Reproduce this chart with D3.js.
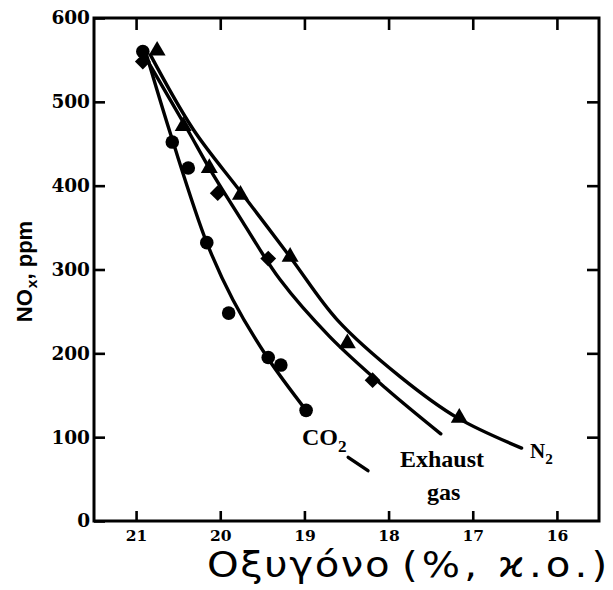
<!DOCTYPE html>
<html>
<head>
<meta charset="utf-8">
<script src="https://cdn.jsdelivr.net/npm/d3@7"></script>
<style>
  html, body { margin: 0; padding: 0; background: #fff; }
  svg { display: block; }
</style>
</head>
<body>
<svg id="chart" width="613" height="590"></svg>
<script>
// Axis ticks
const xTicks = [21, 20, 19, 18, 17, 16];
const yTicks = [0, 100, 200, 300, 400, 500, 600];

// Measured points: [oxygen %, NOx ppm]
const co2Points = [[20.92, 560], [20.57, 452], [20.38, 421], [20.16, 332],
                   [19.90, 248], [19.43, 195], [19.28, 186], [18.98, 132]];
const exhaustPoints = [[20.92, 548], [20.03, 391], [19.43, 313], [18.19, 168]];
const n2Points = [[20.75, 561], [20.44, 471], [20.13, 421], [19.76, 389],
                  [19.17, 315], [18.49, 212], [17.16, 123]];

// Fitted trend curves
const co2Curve = [[20.87, 554], [20.57, 455], [20.16, 332], [19.85, 264],
                  [19.44, 195], [18.98, 132]];
const exhaustCurve = [[20.87, 550], [20.39, 467], [20.12, 419], [19.71, 353],
                      [19.29, 288], [18.70, 220], [18.04, 159], [17.38, 104]];
const n2Curve = [[20.83, 556], [20.32, 467], [19.76, 393], [19.17, 315],
                 [18.61, 240], [17.86, 172], [17.18, 123], [16.42, 87]];

// Short leader stroke under the CO2 label
const co2Leader = [[18.48, 76], [18.245, 60]];

const svg = d3.select("#chart");
const plotL = 94, plotR = 599, plotT = 18, plotB = 521;

const x = d3.scaleLinear().domain([21.5, 15.5]).range([plotL, plotR]);
const y = d3.scaleLinear().domain([0, 600]).range([plotB, plotT]);

const tickFont = "'DejaVu Serif', serif";

// Left axis with labels, ticks pointing inward
const gLeft = svg.append("g").attr("transform", `translate(${plotL},0)`)
  .call(d3.axisLeft(y).tickValues(yTicks).tickSizeInner(-11).tickSizeOuter(0).tickPadding(4));
gLeft.selectAll("text").attr("font-family", tickFont).attr("font-weight", "bold")
  .attr("font-size", 18.5).attr("fill", "#000");

// Bottom axis with labels
const gBottom = svg.append("g").attr("transform", `translate(0,${plotB})`)
  .call(d3.axisBottom(x).tickValues(xTicks).tickFormat(d3.format("d"))
        .tickSizeInner(-10).tickSizeOuter(0).tickPadding(9));
gBottom.selectAll("text").attr("font-family", tickFont).attr("font-weight", "bold")
  .attr("font-size", 15.5).attr("fill", "#000");

// Top and right axes: ticks only
svg.append("g").attr("transform", `translate(0,${plotT})`)
  .call(d3.axisTop(x).tickValues(xTicks).tickFormat("").tickSizeInner(-12).tickSizeOuter(0));
svg.append("g").attr("transform", `translate(${plotR},0)`)
  .call(d3.axisRight(y).tickValues(yTicks.filter(v => v > 0 && v < 600)).tickFormat("")
        .tickSizeInner(-12).tickSizeOuter(0));

svg.selectAll(".domain").remove();
svg.selectAll(".tick line").attr("stroke", "#000").attr("stroke-width", 2.6);

// Plot frame
svg.append("rect")
  .attr("x", plotL).attr("y", plotT)
  .attr("width", plotR - plotL).attr("height", plotB - plotT)
  .attr("fill", "none").attr("stroke", "#000").attr("stroke-width", 3);

// Trend curves
const line = d3.line().x(d => x(d[0])).y(d => y(d[1])).curve(d3.curveCatmullRom.alpha(0.5));
[co2Curve, exhaustCurve, n2Curve].forEach(c => {
  svg.append("path").datum(c).attr("d", line)
    .attr("fill", "none").attr("stroke", "#000").attr("stroke-width", 3.4)
    .attr("stroke-linecap", "round");
});
svg.append("path").datum(co2Leader).attr("d", d3.line().x(d => x(d[0])).y(d => y(d[1])))
  .attr("fill", "none").attr("stroke", "#000").attr("stroke-width", 3.4)
  .attr("stroke-linecap", "round");

// Markers
svg.append("g").selectAll("circle").data(co2Points).join("circle")
  .attr("cx", d => x(d[0])).attr("cy", d => y(d[1])).attr("r", 6.8).attr("fill", "#000");

const squareSym = d3.symbol().type(d3.symbolSquare).size(125);
svg.append("g").selectAll("path").data(exhaustPoints).join("path")
  .attr("d", squareSym)
  .attr("transform", d => `translate(${x(d[0])},${y(d[1])}) rotate(45)`)
  .attr("fill", "#000");

const triSym = d3.symbol().type(d3.symbolTriangle).size(125);
svg.append("g").selectAll("path").data(n2Points).join("path")
  .attr("d", triSym)
  .attr("transform", d => `translate(${x(d[0])},${y(d[1])})`)
  .attr("fill", "#000");

// Series labels
const labelFont = "'Liberation Serif', 'Times New Roman', serif";
function seriesLabel(tx, ty, main, sub, size) {
  const t = svg.append("text").attr("x", tx).attr("y", ty)
    .attr("font-family", labelFont).attr("font-weight", "bold")
    .attr("font-size", size).attr("fill", "#000");
  t.append("tspan").text(main);
  if (sub) t.append("tspan").attr("dy", size * 0.3).attr("font-size", size * 0.72).text(sub);
}
seriesLabel(x(19.03), y(91), "CO", "2", 24);
seriesLabel(x(17.864), y(64), "Exhaust", null, 24);
seriesLabel(x(17.544), y(25), "gas", null, 24);
seriesLabel(x(16.32), y(75), "N", "2", 21);

// Axis titles
const yTitle = svg.append("text")
  .attr("transform", `translate(32,${(plotT + plotB) / 2 + 2}) rotate(-90)`)
  .attr("text-anchor", "middle")
  .attr("font-family", "'Liberation Sans', Arial, sans-serif").attr("font-weight", "bold")
  .attr("font-size", 22).attr("fill", "#000");
yTitle.append("tspan").text("NO");
yTitle.append("tspan").attr("dy", 5).attr("font-size", 15.5).attr("dx", 1).text("x");
yTitle.append("tspan").attr("dy", -5).text(", ppm");

// x title: widened sans glyphs, punctuation spread out
const xTitle = svg.append("g").attr("transform", "translate(207,577) scale(1.15,1)");
xTitle.append("text")
  .attr("x", 0).attr("y", 0)
  .attr("font-family", "'DejaVu Sans', sans-serif")
  .attr("font-size", 35).attr("letter-spacing", 1.4).attr("fill", "#000")
  .text("Οξυγόνο");
xTitle.append("text")
  .attr("x", (402 - 207) / 1.15).attr("y", 0)
  .attr("font-family", "'DejaVu Sans', sans-serif")
  .attr("font-size", 35).attr("letter-spacing", 3.6).attr("fill", "#000")
  .attr("xml:space", "preserve")
  .text("(%, ϰ.ο.)");
</script>
</body>
</html>
